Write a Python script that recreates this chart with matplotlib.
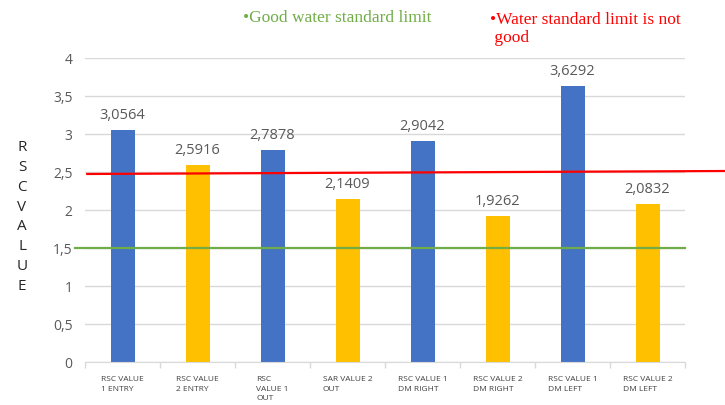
import numpy as np
import matplotlib.pyplot as plt

# chart data
categories = ['RSC VALUE\n1 ENTRY', 'RSC VALUE\n2 ENTRY', 'RSC\nVALUE 1\nOUT',
              'SAR VALUE 2\nOUT', 'RSC VALUE 1\nDM RIGHT', 'RSC VALUE 2\nDM RIGHT',
              'RSC VALUE 1\nDM LEFT', 'RSC VALUE 2\nDM LEFT']
values = [3.0564, 2.5916, 2.7878, 2.1409, 2.9042, 1.9262, 3.6292, 2.0832]
good_limit = 1.5
bad_limit = [2.474, 2.513]  # red line drawn slightly tilted in the original
yticks = [0, 0.5, 1, 1.5, 2, 2.5, 3, 3.5, 4]

blue = '#4472C4'
gold = '#FFC000'
grey_txt = '#595959'
grid_col = '#D9D9D9'


def fmt_comma(v, nd):
    ''' number with decimal comma '''
    s = ('%.' + str(nd) + 'f') % v
    return s.replace('.', ',')


fig = plt.figure(figsize=(7.25, 4.05), dpi=100)
ax = fig.add_axes([85 / 725, 43 / 405, 600 / 725, 304 / 405])

x = np.arange(len(values))
bar_colors = [blue if i % 2 == 0 else gold for i in range(len(values))]
ax.bar(x, values, width=0.32, color=bar_colors, zorder=2)

for xi, v in zip(x, values):
    ax.annotate(fmt_comma(v, 4), (xi, v), xytext=(0, 5),
                textcoords='offset points', ha='center', va='bottom',
                fontsize=10.5, color=grey_txt, family='Open Sans')

# limit lines
ax.plot([-0.63, 7.5], [good_limit, good_limit], color='#70AD47', lw=1.6,
        clip_on=False, zorder=3)
ax.plot([-0.47, 8.03], bad_limit, color='#FF0000', lw=1.6,
        clip_on=False, zorder=3)

ax.set_xlim(-0.5, len(values) - 0.5)
ax.set_ylim(0, 4)
ax.set_yticks(yticks)
ax.set_yticklabels([str(t).replace('.', ',').replace(',0', '') if t != 0 else '0'
                    for t in yticks], color=grey_txt, fontsize=10,
                   family='Open Sans')
ax.tick_params(axis='y', length=0, pad=9)
ax.yaxis.grid(True, color=grid_col, lw=1, zorder=0)
ax.set_axisbelow(True)

# category separators on bottom axis
ax.set_xticks(np.arange(-0.5, len(values) + 0.5, 1))
ax.set_xticklabels([])
ax.tick_params(axis='x', length=4, color=grid_col, width=1)
for xi, lab in zip(x, categories):
    ax.text(xi, -0.19, lab, ha='center', va='top', multialignment='left',
            fontsize=6, color='#404040', family='Open Sans', linespacing=1.5)

for side in ['left', 'right', 'top']:
    ax.spines[side].set_visible(False)
ax.spines['bottom'].set_color(grid_col)

# y label, one letter per line
fig.text(22 / 725, 1 - 217 / 405, '\n'.join('RSCVALUE'), ha='center',
         va='center', fontsize=11, color='#262626', family='Open Sans',
         linespacing=1.45)

# legend-like header
fig.text(243 / 725, 1 - 18 / 405, '\u2022Good water standard limit',
         color='#70AD47', fontsize=12.5, family='Liberation Serif',
         ha='left', va='center')
fig.text(490 / 725, 1 - 29 / 405, '\u2022Water standard limit is not\n good',
         color='#FF0000', fontsize=12.5, family='Liberation Serif',
         ha='left', va='center', linespacing=1.25)

fig.savefig('out.png', dpi=100)
